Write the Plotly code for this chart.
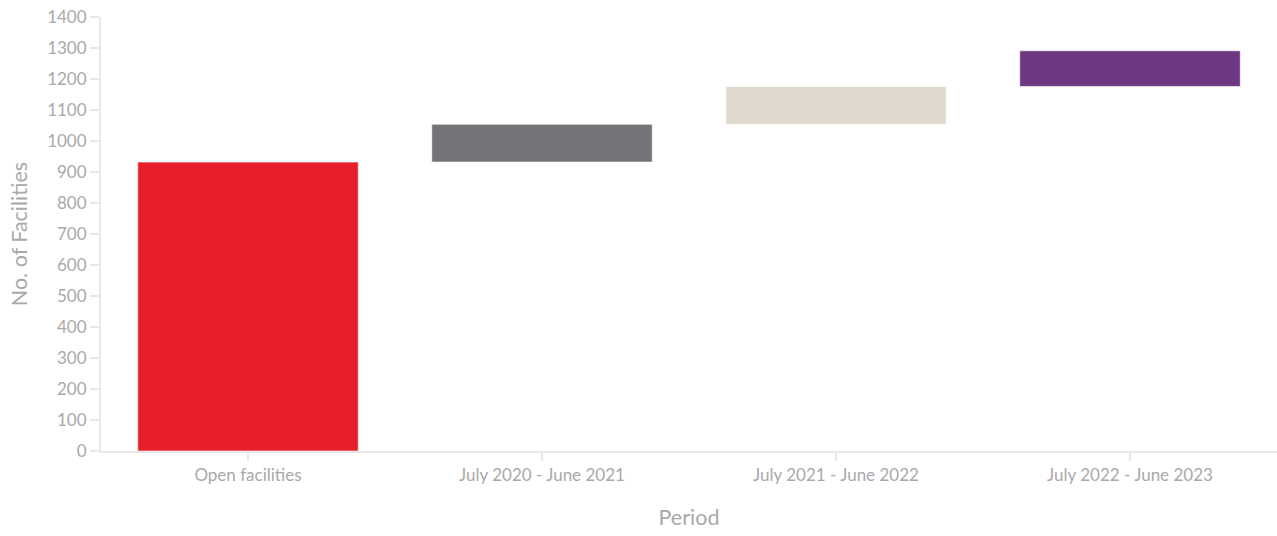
import plotly.graph_objects as go

# Waterfall of open facilities: starting count, then additions per year
periods = ["Open facilities", "July 2020 - June 2021", "July 2021 - June 2022", "July 2022 - June 2023"]
changes = [932, 122, 122, 115]
bar_colors = ["#e71f2b", "#737477", "#e0d9cd", "#6e3882"]

# Each step starts where the previous one finished
bases = []
running = 0
for c in changes:
    bases.append(running)
    running += c

axis_grey = "#e8e8e8"
text_grey = "#a9a9a9"
font_family = "Lato, 'Open Sans', sans-serif"

fig = go.Figure(
    go.Bar(
        x=periods,
        y=changes,
        base=bases,
        marker=dict(color=bar_colors, line=dict(color="rgba(255,255,255,0.6)", width=1)),
        hoverinfo="x+y",
    )
)

fig.update_layout(
    width=1277,
    height=536,
    margin=dict(l=101, r=0, t=17, b=85),
    plot_bgcolor="white",
    paper_bgcolor="white",
    bargap=0.25,
    showlegend=False,
    font=dict(family=font_family, color=text_grey, size=17),
)

fig.update_xaxes(
    title=dict(text="Period", font=dict(size=21.5, color=text_grey), standoff=26),
    showline=True,
    linecolor=axis_grey,
    linewidth=2,
    ticks="outside",
    tickcolor=axis_grey,
    ticklen=8,
    tickwidth=2,
    showgrid=False,
    tickfont=dict(size=17, color=text_grey),
)

fig.update_yaxes(
    title=dict(text="No. of Facilities", font=dict(size=21.5, color=text_grey), standoff=14),
    range=[0, 1400],
    dtick=100,
    showline=True,
    linecolor=axis_grey,
    linewidth=2,
    ticks="outside",
    tickcolor=axis_grey,
    ticklen=9,
    tickwidth=2,
    showgrid=False,
    zeroline=False,
    tickfont=dict(size=17, color=text_grey),
)

fig.write_html("out.html")
